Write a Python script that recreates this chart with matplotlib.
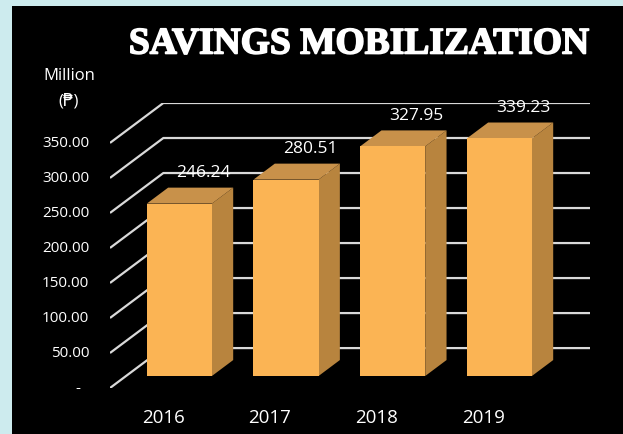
import matplotlib.pyplot as plt
import matplotlib.patheffects as pe
from matplotlib.patches import Polygon, Rectangle

# data
years = ['2016', '2017', '2018', '2019']
savings = [246.24, 280.51, 327.95, 339.23]
tick_values = [0, 50, 100, 150, 200, 250, 300, 350]

# colours
teal = '#cdebee'
front_col = '#fbb454'
side_col = '#b8843e'
top_col = '#c8914a'
grid_col = '#d9d9d9'

# fake 3d: depth 0..1 shifts right/up
DX, DY = 0.5, 57.0
bar_w = 0.61
f0, f1 = 0.3, 0.7


def proj(x, v, d):
    return (x + DX * d, v + DY * d)


fig = plt.figure(figsize=(6.23, 4.35), dpi=100)
fig.patch.set_facecolor(teal)
fig.patches.append(Rectangle((12 / 623, 0), 1, (435 - 7) / 435,
                             transform=fig.transFigure, facecolor='black',
                             edgecolor='none', zorder=-5))

ax = fig.add_axes([110 / 623, 46 / 435, 480 / 623, 285 / 435])
ax.set_xlim(0, 4.5)
ax.set_ylim(0, 350 + DY)
ax.axis('off')

font = ['Open Sans', 'DejaVu Sans']

# gridlines: diagonal on the floor/side wall + horizontal on back wall
for v in tick_values:
    a = proj(0, v, 0)
    b = proj(0, v, 1)
    c = proj(len(years), v, 1)
    ax.plot([a[0], b[0], c[0]], [a[1], b[1], c[1]], color=grid_col,
            lw=1.6, zorder=1, solid_capstyle='butt')
    lab = '-' if v == 0 else f'{v:.2f}'
    ax.annotate(lab, xy=(0, v), xytext=(-23 if v == 0 else -15, 0),
                textcoords='offset points', ha='center' if v == 0 else 'right',
                va='center', color='white', fontsize=11, family=font)

# bars
for i, (yr, h) in enumerate(zip(years, savings)):
    x0 = i + (1 - bar_w) / 2
    x1 = x0 + bar_w
    front = [proj(x0, 0, f0), proj(x1, 0, f0), proj(x1, h, f0), proj(x0, h, f0)]
    side = [proj(x1, 0, f0), proj(x1, 0, f1), proj(x1, h, f1), proj(x1, h, f0)]
    top = [proj(x0, h, f0), proj(x1, h, f0), proj(x1, h, f1), proj(x0, h, f1)]
    for pts, col in [(side, side_col), (top, top_col), (front, front_col)]:
        ax.add_patch(Polygon(pts, closed=True, facecolor=col,
                             edgecolor='none', zorder=3))
    lx, ly = proj(i + 0.5, h, f1)
    ax.annotate(f'{h:.2f}', xy=(lx, ly), xytext=(2, 11),
                textcoords='offset points', ha='center', va='center',
                color='white', fontsize=12.5, family=font)
    ax.annotate(yr, xy=(i + 0.5, 0), xytext=(0, -21),
                textcoords='offset points', ha='center', va='center',
                color='white', fontsize=13.5, family=font,
                annotation_clip=False)

fig.text(69 / 623, (435 - 76) / 435, 'Million', ha='center', va='center',
         color='white', fontsize=12, family=font)
fig.text(69 / 623, (435 - 102) / 435, '(₱)', ha='center', va='center',
         color='white', fontsize=12, family=font)

fig.text(359 / 623, (435 - 45) / 435, 'SAVINGS MOBILIZATION', ha='center',
         va='center', color='white', fontsize=27, fontweight='bold',
         family='Liberation Serif',
         path_effects=[pe.withStroke(linewidth=1.2, foreground='white')])

fig.savefig('out.png', dpi=100, facecolor=fig.get_facecolor())
